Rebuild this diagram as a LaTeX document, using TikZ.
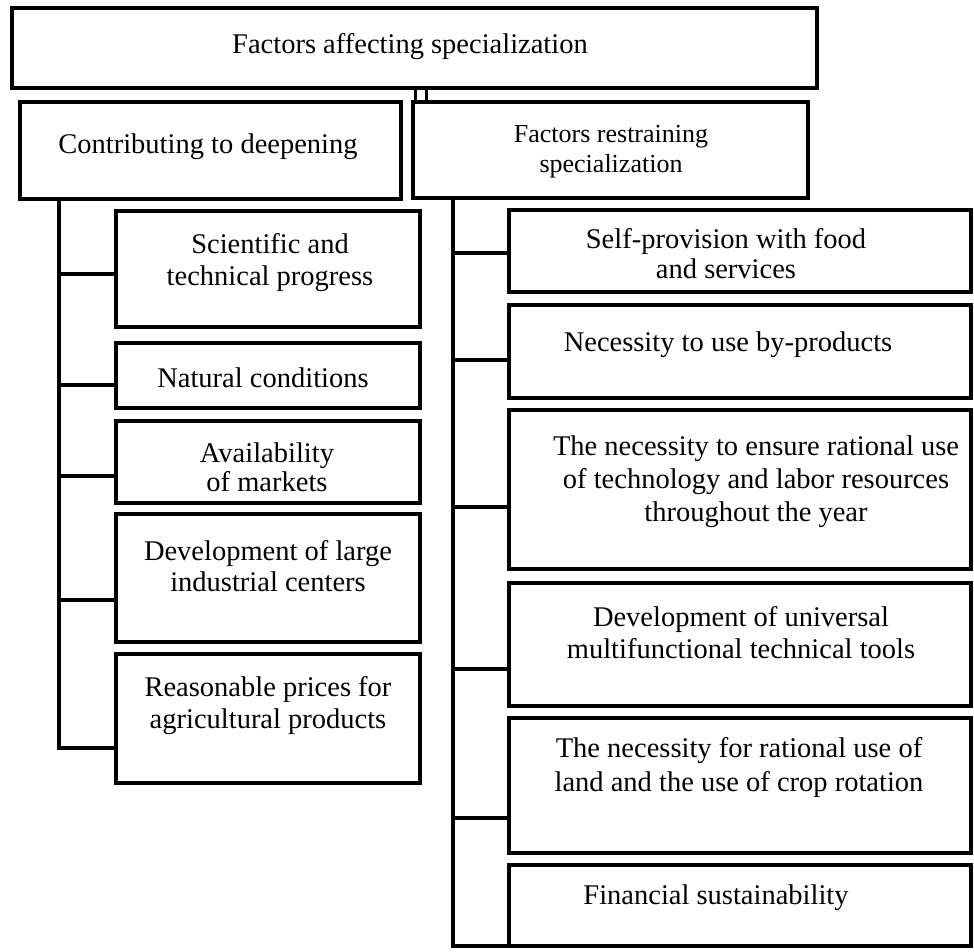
\documentclass[tikz,border=0pt]{standalone}
\usepackage{fontspec}
\setmainfont{Liberation Serif}
\begin{document}
\begin{tikzpicture}[x=1pt,y=-1pt,
  box/.style={draw, line width=3.5pt, inner sep=0pt, outer sep=0pt, anchor=north west},
  lbox/.style={box, minimum width=304pt},
  rbox/.style={box, minimum width=462pt},
  txt/.style={font=\fontsize{28.5}{#1}\selectfont, align=center, inner sep=0pt},
  txt/.default=34,
  conn/.style={line width=3.5pt, line join=miter}]
\useasboundingbox (0,0) rectangle (974,951);
% boxes
\node[box, minimum width=805pt, minimum height=80pt] (top) at (12,8) {};
\node[box, minimum width=381pt, minimum height=97pt] (lh) at (20,102) {};
\node[box, minimum width=395pt, minimum height=96pt] (rh) at (413,102) {};
\node[lbox, minimum height=116pt] (l1) at (116,211) {};
\node[lbox, minimum height=65pt] (l2) at (116,343) {};
\node[lbox, minimum height=82pt] (l3) at (116,421) {};
\node[lbox, minimum height=128pt] (l4) at (116,514) {};
\node[lbox, minimum height=129pt] (l5) at (116,654) {};
\node[rbox, minimum height=82pt] (r1) at (509,210) {};
\node[rbox, minimum height=93pt] (r2) at (509,305) {};
\node[rbox, minimum height=159pt] (r3) at (509,410) {};
\node[rbox, minimum height=123pt] (r4) at (509,583) {};
\node[rbox, minimum height=135pt] (r5) at (509,718) {};
\node[rbox, minimum height=81pt] (r6) at (509,865) {};
% texts
\node[txt] (ttop) at (410,47) {Factors affecting specialization};
\node[txt] (tlh) at (208,147) {Contributing to deepening};
\node[txt, font=\fontsize{26}{30}\selectfont] (trh) at (611,152) {Factors restraining\\specialization};
\node[txt=32] (tl1) at (270,263) {Scientific and\\technical progress};
\node[txt] (tl2) at (263,378) {Natural conditions};
\node[txt=29] (tl3) at (267,467) {Availability\\of markets};
\node[txt=31] (tl4) at (268,566) {Development of large\\industrial centers};
\node[txt=32] (tl5) at (268,706) {Reasonable prices for\\agricultural products};
\node[txt=30] (tr1) at (726,254) {Self-provision with food\\and services};
\node[txt] (tr2) at (728,345) {Necessity to use by-products};
\node[txt=33] (tr3) at (756,482) {The necessity to ensure rational use\\of technology and labor resources\\throughout the year};
\node[txt=32] (tr4) at (741,633) {Development of universal\\multifunctional technical tools};
\node[txt=34] (tr5) at (739,767) {The necessity for rational use of\\land and the use of crop rotation};
\node[txt] (tr6) at (716,898) {Financial sustainability};
% double link between top and second level
\coordinate (d1) at (415,102);
\coordinate (d2) at (426,102);
\draw[conn, line width=3pt] (top.south -| d1) -- (d1);
\draw[conn, line width=3pt] (top.south -| d2) -- (d2);
% left tree
\coordinate (cl1) at (59,274);
\coordinate (cl2) at (59,385);
\coordinate (cl3) at (59,476);
\coordinate (cl4) at (59,600);
\coordinate (cl5) at (59,748);
\draw[conn] (lh.south -| cl5) -- (cl5) -- (cl5 -| l5.west);
\draw[conn] (cl1) -- (cl1 -| l1.west);
\draw[conn] (cl2) -- (cl2 -| l2.west);
\draw[conn] (cl3) -- (cl3 -| l3.west);
\draw[conn] (cl4) -- (cl4 -| l4.west);
% right tree
\coordinate (cr1) at (453,253);
\coordinate (cr2) at (453,360);
\coordinate (cr3) at (453,507);
\coordinate (cr4) at (453,669);
\coordinate (cr5) at (453,818);
\coordinate (cr6) at (453,946);
\draw[conn] (rh.south -| cr6) -- (cr6) -- (r6.south west);
\draw[conn] (cr1) -- (cr1 -| r1.west);
\draw[conn] (cr2) -- (cr2 -| r2.west);
\draw[conn] (cr3) -- (cr3 -| r3.west);
\draw[conn] (cr4) -- (cr4 -| r4.west);
\draw[conn] (cr5) -- (cr5 -| r5.west);
\end{tikzpicture}
\end{document}
